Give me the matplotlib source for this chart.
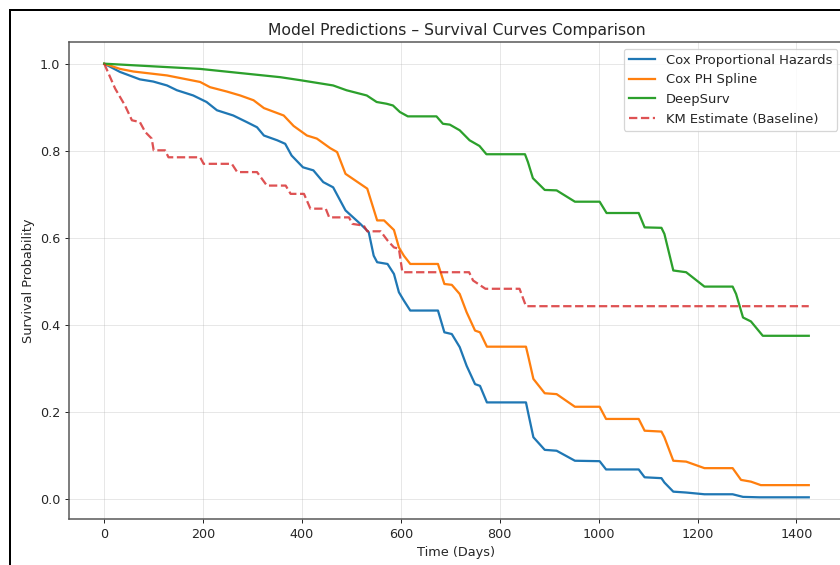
import matplotlib
matplotlib.use('Agg')
import matplotlib.pyplot as plt
from matplotlib.lines import Line2D

# values
cox_t = [0, 32, 72, 99, 127, 147, 180, 207, 228, 261, 288, 309, 323, 350, 366, 379, 402, 423, 443, 463, 488, 518, 535,
         545, 552, 573, 586, 596, 606, 619, 675, 688, 703, 719, 733, 750, 760, 774, 853, 858, 868, 891, 915, 952,
         1002, 1015, 1081, 1093, 1127, 1133, 1151, 1177, 1214, 1271, 1292, 1325, 1425]
cox_s = [1.0, 0.981, 0.964, 0.959, 0.950, 0.939, 0.927, 0.912, 0.893, 0.881, 0.866, 0.854, 0.835, 0.824, 0.816, 0.789,
         0.762, 0.755, 0.728, 0.716, 0.663, 0.632, 0.613, 0.559, 0.544, 0.540, 0.517, 0.475, 0.456, 0.433, 0.433,
         0.383, 0.379, 0.349, 0.306, 0.264, 0.260, 0.222, 0.222, 0.195, 0.142, 0.113, 0.111, 0.088, 0.087, 0.068,
         0.068, 0.050, 0.048, 0.038, 0.017, 0.015, 0.011, 0.011, 0.005, 0.004, 0.004]

spline_t = [0, 32, 59, 127, 194, 214, 248, 275, 302, 323, 363, 383, 410, 430, 457, 471, 488, 532, 552, 566, 586, 596,
            606, 619, 675, 688, 703, 719, 733, 750, 760, 774, 853, 858, 868, 891, 915, 952, 1002, 1015, 1081, 1093,
            1127, 1133, 1151, 1177, 1214, 1271, 1288, 1308, 1328, 1425]
spline_s = [1.0, 0.988, 0.982, 0.973, 0.958, 0.946, 0.936, 0.927, 0.916, 0.898, 0.881, 0.857, 0.835, 0.828, 0.806,
            0.797, 0.747, 0.713, 0.640, 0.640, 0.618, 0.578, 0.559, 0.540, 0.540, 0.494, 0.492, 0.471, 0.429, 0.387,
            0.383, 0.350, 0.350, 0.326, 0.276, 0.243, 0.241, 0.212, 0.212, 0.184, 0.184, 0.157, 0.155, 0.142, 0.088,
            0.086, 0.071, 0.071, 0.044, 0.040, 0.032, 0.032]

deep_t = [0, 194, 356, 397, 463, 490, 531, 551, 571, 584, 598, 614, 672, 685, 699, 719, 739, 759, 773, 851, 857, 867,
          891, 915, 952, 1002, 1016, 1081, 1093, 1127, 1133, 1151, 1177, 1214, 1271, 1278, 1292, 1308, 1332, 1425]
deep_s = [1.0, 0.988, 0.969, 0.962, 0.950, 0.939, 0.927, 0.912, 0.908, 0.904, 0.889, 0.879, 0.879, 0.862, 0.860,
          0.847, 0.824, 0.811, 0.792, 0.792, 0.774, 0.737, 0.710, 0.709, 0.683, 0.683, 0.657, 0.657, 0.624, 0.623,
          0.609, 0.525, 0.521, 0.488, 0.488, 0.471, 0.417, 0.408, 0.375, 0.375]

km_t = [0, 22, 42, 56, 72, 83, 96, 100, 123, 130, 194, 201, 258, 269, 309, 329, 367, 377, 404, 417, 448, 455, 495,
        502, 525, 532, 559, 573, 586, 596, 603, 738, 746, 771, 840, 853, 1425]
km_s = [1.0, 0.943, 0.904, 0.870, 0.866, 0.843, 0.828, 0.801, 0.801, 0.785, 0.785, 0.770, 0.770, 0.751, 0.751, 0.720,
        0.720, 0.701, 0.701, 0.667, 0.667, 0.647, 0.647, 0.632, 0.628, 0.615, 0.615, 0.594, 0.578, 0.575, 0.521,
        0.521, 0.502, 0.483, 0.483, 0.443, 0.443]

plt.rcParams['text.color'] = '#262626'
plt.rcParams['axes.labelcolor'] = '#262626'
plt.rcParams['xtick.color'] = '#262626'
plt.rcParams['ytick.color'] = '#262626'

fig = plt.figure(figsize=(840 / 90, 565 / 90), dpi=90)
ax = fig.add_axes([69 / 840, 46 / 565, 775 / 840, 477 / 565])

ax.plot(cox_t, cox_s, color='#1f77b4', lw=1.8, label='Cox Proportional Hazards')
ax.plot(spline_t, spline_s, color='#ff7f0e', lw=1.8, label='Cox PH Spline')
ax.plot(deep_t, deep_s, color='#2ca02c', lw=1.8, label='DeepSurv')
ax.plot(km_t, km_s, color='#d62728', lw=1.8, ls='--', alpha=0.8, label='KM Estimate (Baseline)')

ax.set_title('Model Predictions \u2013 Survival Curves Comparison', fontsize=12.5)
ax.set_xlabel('Time (Days)', fontsize=10.3)
ax.set_ylabel('Survival Probability', fontsize=10.3)
ax.tick_params(labelsize=10.2)
ax.grid(True, alpha=0.3)
for s in ax.spines.values():
    s.set_color('#555555')
    s.set_linewidth(1.2)
ax.legend(loc='upper right', fontsize=10.5)

# screenshot frame
fig.add_artist(Line2D([10 / 840, 10 / 840], [0, 1 - 10 / 565], transform=fig.transFigure, color='black', lw=1.6))
fig.add_artist(Line2D([10 / 840, 1], [1 - 10 / 565, 1 - 10 / 565], transform=fig.transFigure, color='black', lw=1.6))

fig.savefig('out.png', dpi=90)
